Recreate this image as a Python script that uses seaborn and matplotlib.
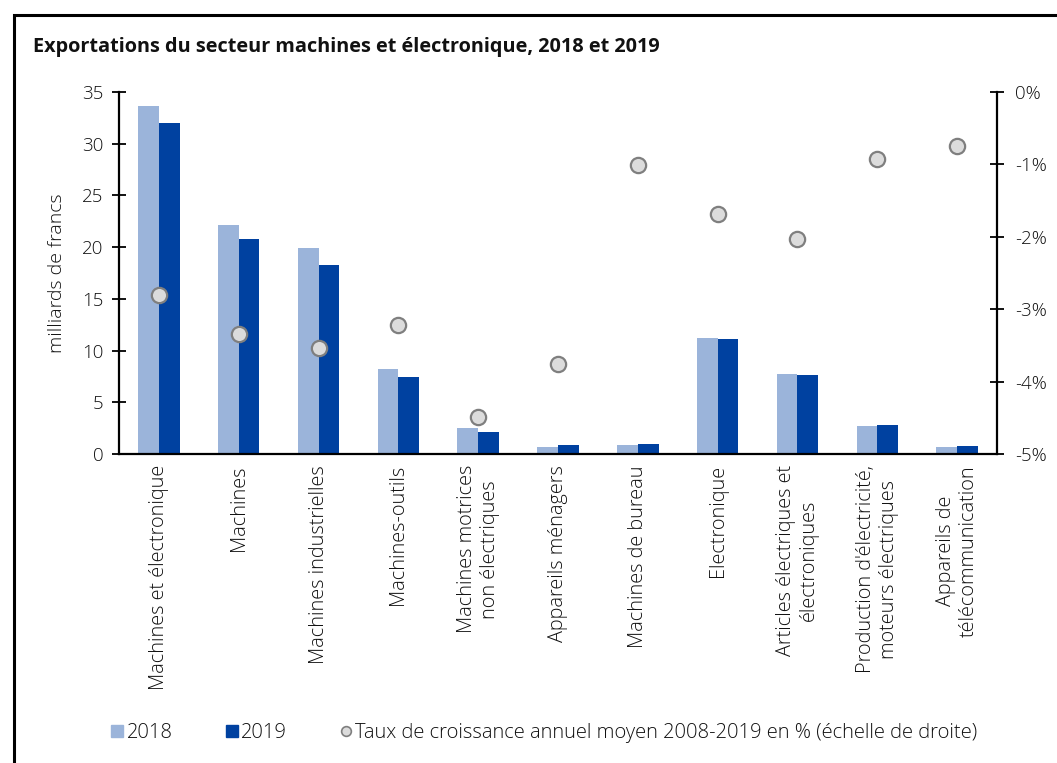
import matplotlib
matplotlib.use("Agg")
import matplotlib.pyplot as plt
import seaborn as sns
import pandas as pd
import numpy as np
from matplotlib.patches import Rectangle
from matplotlib.lines import Line2D

categories = [
    "Machines et électronique",
    "Machines",
    "Machines industrielles",
    "Machines-outils",
    "Machines motrices\nnon électriques",
    "Appareils ménagers",
    "Machines de bureau",
    "Electronique",
    "Articles électriques et\nélectroniques",
    "Production d'électricité,\nmoteurs électriques",
    "Appareils de\ntélécommunication",
]
values_2018 = [33.6, 22.1, 19.9, 8.2, 2.5, 0.7, 0.87, 11.25, 7.75, 2.7, 0.7]
values_2019 = [32.0, 20.8, 18.3, 7.45, 2.1, 0.84, 1.0, 11.1, 7.65, 2.85, 0.74]
growth = [-2.80, -3.34, -3.54, -3.22, -4.49, -3.76, -1.01, -1.69, -2.03, -0.93, -0.75]
years = ["2018", "2019"]
left_ticks = [0, 5, 10, 15, 20, 25, 30, 35]
right_ticks = [0, -1, -2, -3, -4, -5]

sns.set_theme(style="white")
plt.rcParams["font.family"] = ["Open Sans", "DejaVu Sans"]
plt.rcParams["font.weight"] = 300
plt.rcParams["axes.labelweight"] = 300

c2018 = "#9BB4DA"
c2019 = "#0041A0"
txt = "#111111"

df = pd.DataFrame({
    "cat": categories * 2,
    "year": [years[0]] * len(categories) + [years[1]] * len(categories),
    "val": values_2018 + values_2019,
})

fig = plt.figure(figsize=(10.57, 7.63), dpi=100)
ax = fig.add_axes([119 / 1057, 1 - 454 / 763, (997 - 119) / 1057, (454 - 92) / 763])

sns.barplot(data=df, x="cat", y="val", hue="year", order=categories,
            hue_order=years, palette=[c2018, c2019], width=0.52, gap=0,
            saturation=1, ax=ax, legend=False, linewidth=0)
ax.set_ylim(0, 35)
ax.set_xlim(-0.5, len(categories) - 0.5)
ax.set_yticks(left_ticks)
ax.set_xlabel("")
ax.set_ylabel("milliards de francs", fontsize=14, fontweight=300, color=txt, labelpad=12)
for s in ["top", "right"]:
    ax.spines[s].set_visible(False)
ax.spines["left"].set_color("black")
ax.spines["bottom"].set_color("black")
ax.spines["left"].set_linewidth(1.6)
ax.spines["bottom"].set_linewidth(1.6)
ax.tick_params(axis="y", which="both", direction="inout", length=10, width=1.3,
               colors="black", labelcolor=txt, labelsize=13.5, left=True, pad=6)
ax.tick_params(axis="x", length=0, labelsize=14.3, pad=8)
ax.set_xticks(range(len(categories)))
ax.set_xticklabels(categories, rotation=90, ha="center", va="top",
                   multialignment="center", color=txt)

ax2 = ax.twinx()
sns.stripplot(x=categories, y=growth, order=categories, ax=ax2, jitter=False,
              color="#DCDCDC", edgecolor="#7F7F7F", linewidth=1.6, size=11,
              zorder=5)
ax2.set_xlim(-0.5, len(categories) - 0.5)
ax2.set_ylim(-5, 0)
ax2.set_yticks(right_ticks)
ax2.set_yticklabels([f"{t}%" for t in right_ticks])
for s in ["top", "left", "bottom"]:
    ax2.spines[s].set_visible(False)
ax2.spines["right"].set_color("black")
ax2.spines["right"].set_linewidth(1.6)
ax2.tick_params(axis="y", which="both", direction="inout", length=10, width=1.3,
                colors="black", labelcolor=txt, labelsize=13.5, right=True, pad=8)
ax2.set_ylabel("")

fig.text(33 / 1057, 1 - 47 / 763, "Exportations du secteur machines et électronique, 2018 et 2019",
         fontsize=14.3, fontweight="bold", family=["Open Sans", "DejaVu Sans"],
         ha="left", va="center", color=txt)

handles = [
    Line2D([], [], marker="s", linestyle="none", markersize=8.5, markerfacecolor=c2018, markeredgecolor=c2018),
    Line2D([], [], marker="s", linestyle="none", markersize=8.5, markerfacecolor=c2019, markeredgecolor=c2019),
    Line2D([], [], marker="o", linestyle="none", markersize=7, markerfacecolor="#DCDCDC",
           markeredgecolor="#7F7F7F", markeredgewidth=1.2),
]
labels = ["2018", "2019", "Taux de croissance annuel moyen 2008-2019 en % (échelle de droite)"]
leg = fig.legend(handles, labels, loc="center", bbox_to_anchor=(543 / 1057, 1 - 733 / 763), ncol=3,
                 frameon=False, fontsize=14.5, handletextpad=0.0, columnspacing=2.5, handlelength=0.9)
for t in leg.get_texts():
    t.set_color(txt)

fig.patches.append(Rectangle((14 / 1057, -0.05), 1.1, 1 - 15 / 763 + 0.05, transform=fig.transFigure,
                             fill=False, edgecolor="black", linewidth=2.2))

fig.savefig("out.png", dpi=100)
